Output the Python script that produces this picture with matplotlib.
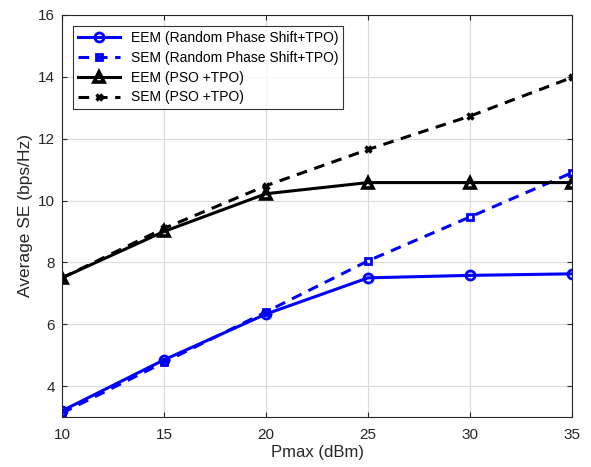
import matplotlib.pyplot as plt

plt.rcParams['font.family'] = ['Liberation Sans', 'DejaVu Sans']

pmax = [10, 15, 20, 25, 30, 35]
eem_rps = [3.2, 4.85, 6.33, 7.5, 7.58, 7.63]
sem_rps = [3.13, 4.77, 6.4, 8.05, 9.47, 10.9]
eem_pso = [7.5, 9.0, 10.22, 10.58, 10.58, 10.58]
sem_pso = [7.5, 9.1, 10.48, 11.65, 12.73, 13.98]

fig = plt.figure(figsize=(5.91, 4.67), dpi=100)
ax = fig.add_axes([0.105, 0.107, 0.863, 0.861])

ax.plot(pmax, eem_rps, color='blue', linestyle='-', linewidth=2.2, marker='o',
        markersize=6.5, markerfacecolor='none', markeredgewidth=2,
        label='EEM (Random Phase Shift+TPO)')
ax.plot(pmax, sem_rps, color='blue', linestyle=(0, (3.5, 2.5)), linewidth=2.2, marker='s',
        markersize=5, markerfacecolor='none', markeredgewidth=2,
        label='SEM (Random Phase Shift+TPO)')
ax.plot(pmax, eem_pso, color='black', linestyle='-', linewidth=2.2, marker='^',
        markersize=7, markerfacecolor='none', markeredgewidth=2.6,
        label='EEM (PSO +TPO)')
ax.plot(pmax, sem_pso, color='black', linestyle=(0, (3.5, 2.5)), linewidth=2.2, marker='x',
        markersize=4.5, markeredgewidth=2.5,
        label='SEM (PSO +TPO)')

ax.set_xlim(10, 35)
ax.set_ylim(3, 16)
ax.set_xticks([10, 15, 20, 25, 30, 35])
ax.set_yticks([4, 6, 8, 10, 12, 14, 16])
ax.set_xlabel('Pmax (dBm)', fontsize=12, color='#262626', labelpad=2)
ax.set_ylabel('Average SE (bps/Hz)', fontsize=12.5, color='#262626', labelpad=4)
ax.tick_params(direction='in', labelsize=11, top=True, right=True, colors='#262626')
ax.tick_params(axis='x', pad=8)
ax.tick_params(axis='y', pad=5)
ax.grid(True, color='#dadada', linewidth=0.8)
for s in ax.spines.values():
    s.set_color('#262626')

leg = ax.legend(loc='upper left', fontsize=10, frameon=True, fancybox=False,
                edgecolor='black', borderpad=0.35, handlelength=3, labelspacing=0.42,
                borderaxespad=0.8)
leg.get_frame().set_linewidth(0.8)

fig.savefig('out.png', dpi=100)
